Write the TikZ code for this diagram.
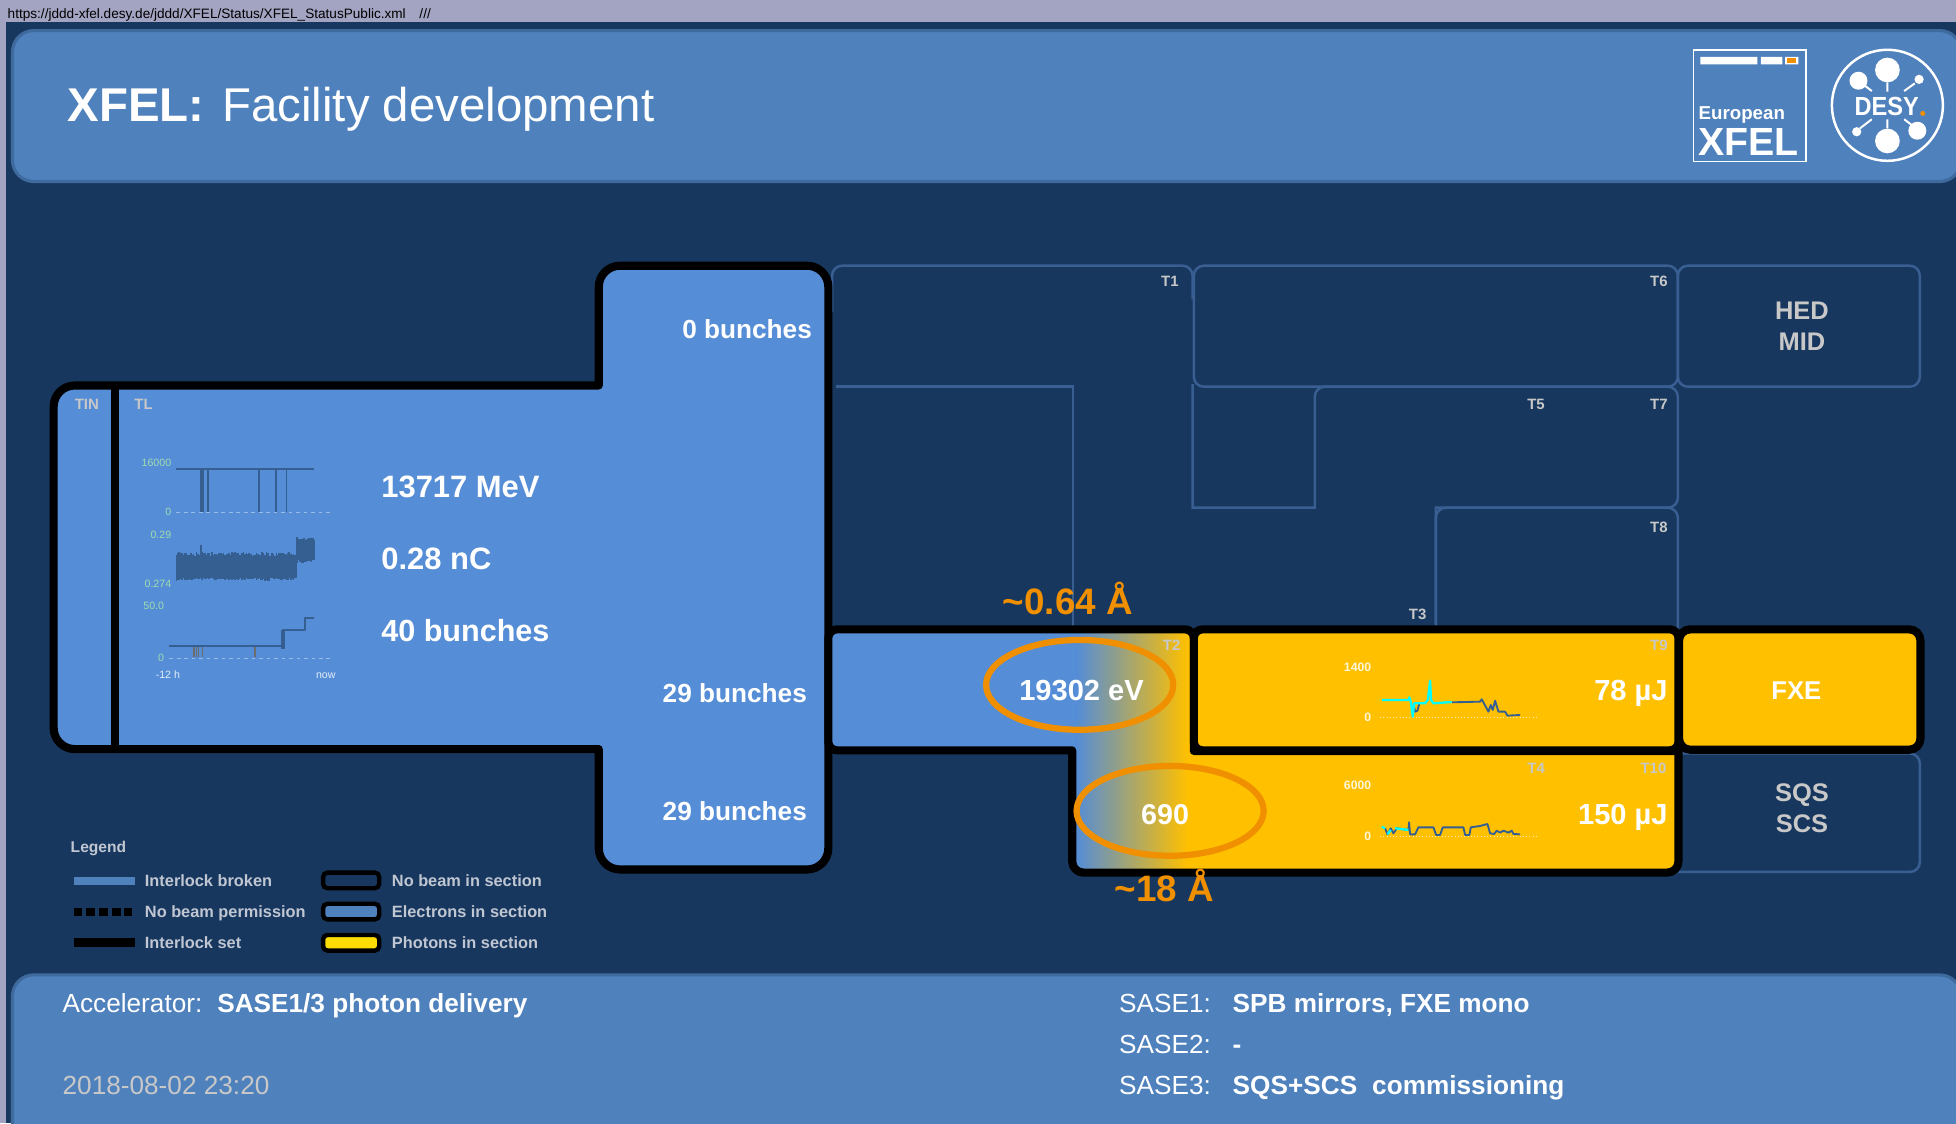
\documentclass[tikz,border=0pt]{standalone}
\usepackage{fontspec}
\setmainfont{Liberation Sans}
\usetikzlibrary{arrows.meta,positioning}
\definecolor{xbg}{RGB}{23,55,94}
\definecolor{xlilac}{RGB}{163,163,194}
\definecolor{xpanel}{RGB}{79,129,189}
\definecolor{xedge}{RGB}{62,106,158}
\definecolor{xelec}{RGB}{85,141,214}
\definecolor{xphot}{RGB}{255,192,0}
\definecolor{xidle}{RGB}{56,94,146}
\definecolor{xring}{RGB}{240,144,0}
\definecolor{xtag}{RGB}{200,200,200}
\definecolor{xtrace}{RGB}{54,95,145}
\definecolor{xaxis}{RGB}{160,220,176}
\definecolor{xlegend}{RGB}{192,198,210}
\definecolor{xcyan}{RGB}{0,255,255}
\newcommand{\sz}[1]{\fontsize{#1}{#1}\selectfont}
\tikzset{
  sect/.style={draw=black,line width=6.5pt,line join=round},
  idle/.style={draw=xidle,line width=2pt},
  txt/.style={inner sep=0pt,anchor=base west,text=white},
  rtxt/.style={inner sep=0pt,anchor=base east,text=white},
  ctxt/.style={inner sep=0pt,anchor=base,text=white},
  tag/.style={rtxt,text=xtag,font=\sz{12}\bfseries},
  axlab/.style={rtxt,text=xaxis,font=\sz{8.5}},
  yellab/.style={rtxt,text=white!85!xphot,font=\sz{9.8}\bfseries},
  legtxt/.style={txt,text=xlegend,font=\sz{13.1}\bfseries},
  swatch/.style={draw=black,line width=3.5pt,rounded corners=3.5pt},
  trace/.style={draw=xtrace,line width=1.5pt,line join=round},
  photrace/.style={draw=xcyan,line width=1.8pt,line join=round},
}
\begin{document}
\begin{tikzpicture}[x=1pt,y=-1pt]
\clip (0,0) rectangle (1568,900.25);
\fill[xlilac] (0,0) rectangle (1568,900.25);
\fill[xbg] (4.5,18) rectangle (1568,900.25);
% head and foot
\draw[xedge,fill=xpanel,line width=2.5pt,rounded corners=17pt] (10,24.5) rectangle (1572,145.5);
\draw[xedge,fill=xpanel,line width=2.5pt,rounded corners=17pt] (10,781.5) rectangle (1572,930);
\node[txt,text=black,font=\sz{10.9}] (url) at (6,14.7) {https://jddd-xfel.desy.de/jddd/XFEL/Status/XFEL\_StatusPublic.xml\hspace{11pt}///};
\node[txt,font=\sz{38}\bfseries] (title) at (54,97.5) {XFEL:};
\node[txt,font=\sz{38}] (subtitle) at (178,97.5) {Facility development};
% XFEL logo
\draw[white,line width=1.5pt] (1357.5,40) rectangle (1447.5,129.5);
\fill[white] (1363,45.5) rectangle (1408.7,51.6) (1411.5,45.5) rectangle (1428.7,51.6) (1431,45.5) rectangle (1441.6,51.6);
\fill[xring] (1432.5,46.8) rectangle (1440,50.3);
\node[txt,font=\sz{15}\bfseries] (european) at (1361.5,96) {European};
\node[txt,font=\sz{31.5}\bfseries] (xfellogo) at (1361,124.5) {XFEL};
% DESY logo
\draw[white,line width=2pt] (1513,84.4) circle (44.5);
\fill[white] (1513,56.1) circle (9.9) (1513,113) circle (9.9) (1489.8,64.7) circle (7.2) (1537,104.8) circle (7.2) (1538.4,63.6) circle (3.7) (1488.4,105.6) circle (3.7);
\draw[white,line width=1.6pt] (1513,66) -- (1513,73.5) (1513,95.7) -- (1513,103) (1495,68.7) -- (1500.5,73) (1535,66.8) -- (1526.4,73) (1491,102.9) -- (1500.5,95.6) (1526.4,95.6) -- (1532.5,100.2);
\node[ctxt,font=\sz{21}\bfseries,xscale=.9] (desy) at (1512.5,92.2) {DESY};
\fill[xring] (1541.3,90.9) circle (2);
% idle sections
\draw[idle,rounded corners=8pt] (667,250) -- (667,213) -- (956,213) -- (956,240);
\draw[idle] (670,310) -- (860,310) -- (860,505);
\draw[idle,rounded corners=8pt] (957,213) rectangle (1345,310);
\draw[idle,rounded corners=8pt] (1345,213) rectangle (1539,310);
\draw[idle] (956,308) -- (956,407) -- (1054,407) [rounded corners=8pt] -- (1054,310) -- (1345,310) -- (1345,407) [sharp corners] -- (1151,407) -- (1151,505);
\draw[idle,rounded corners=8pt] (1151,505) -- (1151,407) -- (1345,407) -- (1345,505);
\draw[idle,rounded corners=8pt] (1340,604) -- (1539,604) -- (1539,699) -- (1340,699);
% electron line
\draw[sect,fill=xelec] (300,600.5) [rounded corners=17pt] -- (43,600.5) -- (43,309) [sharp corners] -- (480,309) [rounded corners=17pt] -- (480,213) -- (664,213) -- (664,697) -- (480,697) [sharp corners] -- (480,600.5) -- cycle;
\draw[black,line width=6.5pt] (92,309) -- (92,600.5);
% SASE branches
\def\branchpath{(800,504.5) [rounded corners=7pt] -- (957,504.5) [sharp corners] -- (957,602) -- (1345.5,602) [rounded corners=9pt] -- (1345.5,699.5) -- (859.5,699.5) [sharp corners] -- (859.5,601.5) [rounded corners=7pt] -- (664,601.5) -- (664,504.5) -- cycle}
\begin{scope}
\clip \branchpath;
\fill[xelec] (660,500) rectangle (864,705);
\shade[left color=xelec,right color=xphot] (863,500) rectangle (952,705);
\fill[xphot] (951.5,500) rectangle (1350,705);
\end{scope}
\draw[sect] \branchpath;
\draw[sect,fill=xphot,rounded corners=7pt] (957,504.5) rectangle (1345.5,601.5);
\draw[sect,fill=xphot,rounded corners=9pt] (1346,504.5) rectangle (1539.5,601);
\draw[xring,line width=5pt] (865.5,549) ellipse (75 and 36);
\draw[xring,line width=5pt] (938,650) ellipse (75 and 36);
% section tags
\foreach \n/\x/\y in {T1/945/229.8,T6/1337/229.8,T5/1238.5/328,T7/1337/328,T8/1337/427,T3/1143.6/497,T2/946.4/521.6,T9/1337/521.6,T4/1238.6/620,T10/1336/620,TIN/79.5/328,TL/122.6/328}
  \node[tag] (tag\n) at (\x,\y) {\n};
% readings
\node[txt,font=\sz{24.8}\bfseries] (energy) at (305.5,398.6) {13717 MeV};
\node[txt,font=\sz{24.8}\bfseries] (charge) at (305.5,456.5) {0.28 nC};
\node[txt,font=\sz{24.5}\bfseries] (bunches) at (305.5,514) {40 bunches};
\node[rtxt,font=\sz{21}\bfseries] (bunchA) at (651,271) {0 bunches};
\node[rtxt,font=\sz{21}\bfseries] (bunchB) at (647,563) {29 bunches};
\node[rtxt,font=\sz{21}\bfseries] (bunchC) at (647,657.4) {29 bunches};
\node[ctxt,font=\sz{23.3}\bfseries] (photE) at (867,561.7) {19302 eV};
\node[ctxt,font=\sz{23}\bfseries] (photS) at (934,660.8) {690};
\node[rtxt,font=\sz{23.3}\bfseries] (pulseA) at (1337,561.7) {78 µJ};
\node[rtxt,font=\sz{23.3}\bfseries] (pulseB) at (1337,660.8) {150 µJ};
\node[ctxt,text=xring,font=\sz{29.5}\bfseries] (waveA) at (856,492.5) {\char`\~0.64 Å};
\node[ctxt,text=xring,font=\sz{29.5}\bfseries] (waveB) at (933.5,722.8) {\char`\~18 Å};
\node[ctxt,font=\sz{20.6}\bfseries] (fxe) at (1440,561) {FXE};
\node[ctxt,text=xtag,font=\sz{20.4}\bfseries] (hed) at (1444.5,256.5) {HED};
\node[ctxt,text=xtag,font=\sz{20.4}\bfseries] (mid) at (1444.5,281) {MID};
\node[ctxt,text=xtag,font=\sz{20.4}\bfseries] (sqs) at (1444.5,642.7) {SQS};
\node[ctxt,text=xtag,font=\sz{20.4}\bfseries] (scs) at (1444.5,667.5) {SCS};
% history plots in TL
\begin{scope}[shift={(32.07,296.6)},x=.2863pt,y=-.2672pt]
\foreach \b/\l/\r in {427/382/820,865/362/820}
  \draw[white!40!xelec,line width=.4pt,dashed] (\l,\b) -- (\r,\b);
\draw[trace] (382,297) -- (768,297);
\foreach \x in {450,457,470,612,660,690}
  \draw[trace] (\x,297) -- (\x,427);
\pgfmathsetseed{11}
\foreach \x in {382,386,...,718}{
  \pgfmathsetmacro{\up}{552+rnd*12-6}
  \pgfmathsetmacro{\dn}{626+rnd*8-2}
  \draw[xtrace,line width=1.3pt] (\x,\up) -- (\x,\dn);
}
\foreach \x in {720,724,...,768}{
  \pgfmathsetmacro{\up}{506+rnd*8-4}
  \pgfmathsetmacro{\dn}{574+rnd*10-4}
  \draw[xtrace,line width=1.3pt] (\x,\up) -- (\x,\dn);
}
\draw[xtrace,line width=1.3pt] (450,525) -- (450,550);
\foreach \x in {432,438,444,455,603}
  \draw[gray!85!black,line width=1.4pt] (\x,829) -- (\x,862);
\draw[trace] (362,829) -- (680,829) -- (680,780) -- (742,780) -- (742,743) -- (766,743);
\draw[xtrace,line width=2.8pt] (681,780) -- (681,836);
\node[axlab] (maxE) at (368,290) {16000};
\node[axlab] (zeroE) at (368,437) {0};
\node[axlab] (maxQ) at (368,505) {0.29};
\node[axlab] (minQ) at (368,652) {0.274};
\node[axlab] (maxN) at (348,720) {50.0};
\node[axlab] (zeroN) at (348,874) {0};
\node[ctxt,font=\sz{8.5},text=white!85!xelec] (tstart) at (358,927) {-12 h};
\node[ctxt,font=\sz{8.5},text=white!85!xelec] (tnow) at (800,927) {now};
\end{scope}
% pulse energy plots
\begin{scope}[shift={(1042.2,497)},x=.2672pt,y=-.2672pt]
\foreach \b in {293,648}
  \draw[white!70!xphot,line width=.6pt,dotted] (240,\b) -- (715,\b);
\draw[trace] (340,250) -- (345,275) -- (352,272) -- (358,250);
\draw[trace] (455,247) -- (540,245) -- (545,238) -- (565,275) -- (572,255) -- (578,270) -- (585,242) -- (595,275) -- (615,275) -- (622,287) -- (660,285);
\draw[photrace] (245,240) -- (325,240) -- (328,232) -- (332,245) -- (338,290) -- (342,250) -- (375,250) -- (383,240) -- (390,182) -- (393,240) -- (400,250) -- (455,246);
\draw[trace] (255,625) -- (262,643) -- (272,625) -- (280,640) -- (290,625) -- (325,630) -- (327,607) -- (330,643) -- (345,643) -- (355,622) -- (400,622) -- (408,645) -- (420,645) -- (428,622) -- (490,622) -- (495,645) -- (508,645) -- (512,622) -- (540,618) -- (562,612) -- (570,640) -- (582,642) -- (590,632) -- (600,638) -- (610,632) -- (625,638) -- (635,632) -- (640,642) -- (660,643);
\draw[photrace] (245,620) -- (255,625) (262,643) -- (272,630) (285,625) -- (325,630);
\node[yellab] (maxA) at (214,154) {1400};
\node[yellab] (zeroA) at (214,306) {0};
\node[yellab] (maxB) at (214,508) {6000};
\node[yellab] (zeroB) at (214,661) {0};
\end{scope}
% legend
\node[legtxt,font=\sz{12.5}\bfseries] (legend) at (56.5,683.5) {Legend};
\draw[xpanel,line width=6.5pt] (59,706) -- (108,706);
\draw[black,line width=6.5pt,dash pattern=on 7pt off 3.2pt] (59,731) -- (106,731);
\draw[black,line width=6.5pt] (59,755.5) -- (108,755.5);
\draw[swatch,fill=xbg] (259,699.5) rectangle (304,712);
\draw[swatch,fill=xpanel] (259,724.5) rectangle (304,737);
\draw[swatch,fill=yellow!80!orange] (259,749.5) rectangle (304,762);
\node[legtxt] (lbroken) at (116,710.5) {Interlock broken};
\node[legtxt] (lperm) at (116,735.5) {No beam permission};
\node[legtxt] (lset) at (116,760) {Interlock set};
\node[legtxt] (lnobeam) at (314,710.5) {No beam in section};
\node[legtxt] (lelec) at (314,735.5) {Electrons in section};
\node[legtxt] (lphot) at (314,760) {Photons in section};
% foot text
\node[txt,font=\sz{21}] (accel) at (50,812) {Accelerator:};
\node[txt,font=\sz{21}\bfseries] (accelv) at (174,812) {SASE1/3 photon delivery};
\node[txt,text=xtag,font=\sz{21}] (stamp) at (50,877) {2018-08-02 23:20};
\node[txt,font=\sz{21}] (saseA) at (897,812) {SASE1:};
\node[txt,font=\sz{21}] (saseB) at (897,844.5) {SASE2:};
\node[txt,font=\sz{21}] (saseC) at (897,877) {SASE3:};
\node[txt,font=\sz{21}\bfseries] (saseAv) at (988,812) {SPB mirrors, FXE mono};
\node[txt,font=\sz{21}\bfseries] (saseBv) at (988,844.5) {-};
\node[txt,font=\sz{21}\bfseries] (saseCv) at (988,877) {SQS+SCS\hspace{12pt}commissioning};
\end{tikzpicture}
\end{document}
